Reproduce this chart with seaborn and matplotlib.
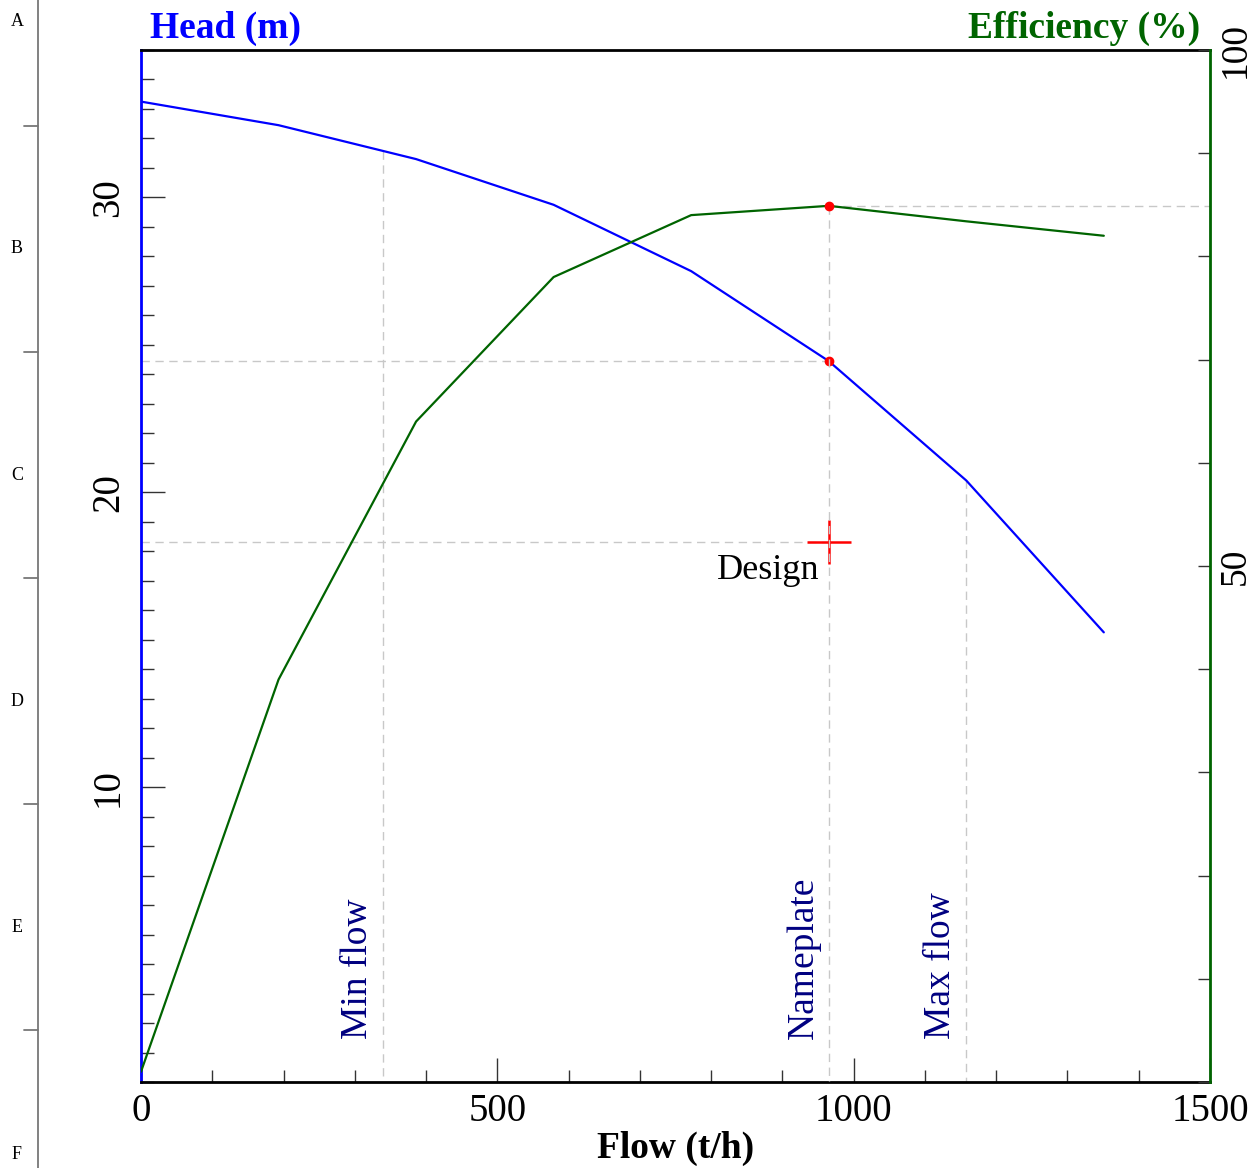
import matplotlib
matplotlib.use('Agg')
import matplotlib.pyplot as plt
from matplotlib.ticker import MultipleLocator
from matplotlib.lines import Line2D
import numpy as np
import pandas as pd
import seaborn as sns

# pump curve
flow = [0, 193, 386, 579, 772, 965, 1158, 1351]
head = [33.25, 32.45, 31.3, 29.75, 27.5, 24.45, 20.4, 15.25]
efficiency = [1, 39, 64, 78, 84, 84.9, 83.4, 82]

min_flow = 340
nameplate_flow = 965
max_flow = 1158
design_flow = 965
design_head = 18.3

markers = ['Min flow', 'Nameplate', 'Max flow']
marker_flows = [min_flow, nameplate_flow, max_flow]
frame_letters = ['A', 'B', 'C', 'D', 'E', 'F']

W, H = 1254, 1168

sns.set_style('white')
plt.rcParams['font.family'] = ['Liberation Serif', 'DejaVu Serif']
plt.rcParams['text.color'] = 'black'
plt.rcParams['xtick.color'] = 'black'
plt.rcParams['ytick.color'] = 'black'

df = pd.DataFrame({'flow': flow, 'head': head, 'efficiency': efficiency})

fig = plt.figure(figsize=(W / 100, H / 100), dpi=100)
ax = fig.add_axes([141 / W, 1 - 1082 / H, (1210 - 141) / W, (1082 - 50) / H])
ax2 = ax.twinx()

blue = '#0000ff'
green = '#006400'
navy = '#000080'
grid = '#c8c8c8'
dash = (0, (6, 4))

sns.lineplot(data=df, x='flow', y='head', ax=ax, color=blue, lw=1.6, zorder=3)
sns.lineplot(data=df, x='flow', y='efficiency', ax=ax2, color=green, lw=1.6, zorder=3)

ax.set_xlim(0, 1500)
ax.set_ylim(0, 35)
ax2.set_ylim(0, 100)
ax.set_xlabel('')
ax.set_ylabel('')
ax2.set_ylabel('')

# guide lines
np_head = np.interp(nameplate_flow, flow, head)
np_eff = np.interp(nameplate_flow, flow, efficiency)
ax.plot([0, nameplate_flow], [np_head, np_head], color=grid, lw=1, ls=dash, zorder=1)
ax.plot([0, design_flow], [design_head, design_head], color=grid, lw=1, ls=dash, zorder=1)
ax2.plot([nameplate_flow, 1500], [np_eff, np_eff], color=grid, lw=1, ls=dash, zorder=1)
ax2.plot([nameplate_flow, nameplate_flow], [np_eff, 0], color=grid, lw=1, ls=dash, zorder=1)
for f in [min_flow, max_flow]:
    ax.plot([f, f], [np.interp(f, flow, head), 0], color=grid, lw=1, ls=dash, zorder=1)

# nameplate points and design point
ax.plot(nameplate_flow, np_head, 'o', color='red', ms=6, zorder=5)
ax2.plot(nameplate_flow, np_eff, 'o', color='red', ms=6, zorder=5)
ax.plot(design_flow, design_head, '+', color='red', ms=31, mew=1.8, zorder=5)
ax.annotate('Design', (design_flow, design_head), xytext=(-7, -8),
            textcoords='offset points', ha='right', va='top', fontsize=26, color='black')

for label, f in zip(markers, marker_flows):
    ax.annotate(label, (f, 1.45), xytext=(-6, 0), textcoords='offset points',
                ha='right', va='bottom', rotation=90, fontsize=27, color=navy)

# ticks
ax.xaxis.set_major_locator(MultipleLocator(500))
ax.xaxis.set_minor_locator(MultipleLocator(100))
ax.yaxis.set_major_locator(MultipleLocator(10))
ax.yaxis.set_minor_locator(MultipleLocator(1))
ax2.yaxis.set_major_locator(MultipleLocator(50))
ax2.yaxis.set_minor_locator(MultipleLocator(10))

ax.tick_params(which='both', direction='in', top=False, right=False, bottom=True, left=True,
               color='#333333', width=1, labelsize=28, labelcolor='black')
ax.tick_params(which='major', length=17)
ax.tick_params(which='minor', length=9)
ax.tick_params(axis='x', which='major', pad=8)
ax.tick_params(axis='y', labelrotation=90, pad=10)
ax.set_yticks([10, 20, 30])
ax.set_yticklabels(['10', '20', '30'], va='center')

ax2.tick_params(axis='y', which='both', direction='in', left=False, right=True,
                color='#333333', width=1, labelsize=27, labelrotation=90, pad=6,
                labelcolor='black', length=9)
ax2.set_yticks([50, 100])
ax2.set_yticklabels(['50', '100'], va='center')

for s in ['top', 'bottom']:
    ax.spines[s].set_color('black')
    ax.spines[s].set_linewidth(2)
    ax2.spines[s].set_visible(False)
ax.spines['left'].set_color(blue)
ax.spines['left'].set_linewidth(2)
ax.spines['right'].set_visible(False)
ax2.spines['left'].set_visible(False)
ax2.spines['right'].set_color(green)
ax2.spines['right'].set_linewidth(2)

# titles
fig.text(150 / W, 1 - 38 / H, 'Head (m)', color=blue, fontsize=27,
         fontweight='bold', ha='left', va='baseline')
fig.text(1200 / W, 1 - 38 / H, 'Efficiency (%)', color=green, fontsize=27,
         fontweight='bold', ha='right', va='baseline')
fig.text(676 / W, 1 - 1158 / H, 'Flow (t/h)', color='black', fontsize=27,
         fontweight='bold', ha='center', va='baseline')

# drawing frame on the left
fig.add_artist(Line2D([38 / W, 38 / W], [0, 1], color='#777777', lw=1.3,
                      transform=fig.transFigure))
for yy in [126, 352, 578, 804, 1030]:
    fig.add_artist(Line2D([24 / W, 38 / W], [1 - yy / H, 1 - yy / H], color='#777777',
                          lw=1.3, transform=fig.transFigure))
for i, letter in enumerate(frame_letters):
    fig.text(17 / W, 1 - (22 + i * 226.5) / H, letter, fontsize=13,
             ha='center', va='center', color='black')

fig.savefig('out.png', dpi=100)
